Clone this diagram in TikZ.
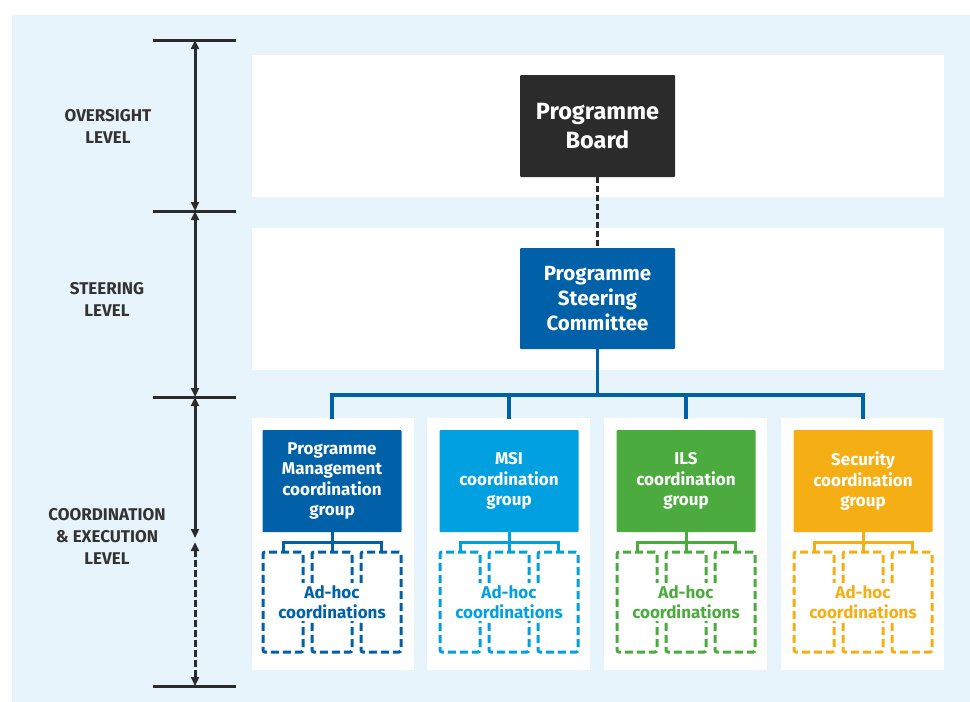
\documentclass[tikz,border=0pt]{standalone}
\usepackage{fontspec}
\setmainfont{Fira Sans}
\usetikzlibrary{arrows.meta}
\definecolor{bgblue}{HTML}{E8F4FC}
\definecolor{dark}{HTML}{2B2B2B}
\definecolor{pmblue}{HTML}{0061A8}
\definecolor{msiblue}{HTML}{00A0E1}
\definecolor{ilsgreen}{HTML}{4BAB3E}
\definecolor{secorange}{HTML}{F5AF15}
\definecolor{labelgray}{HTML}{333333}
\tikzset{
  panel/.style={fill=white,draw=none},
  lvbar/.style={line width=3pt,draw=dark},
  lvarrow/.style={line width=3pt,draw=dark,{Triangle[length=9pt,width=8pt]}-{Triangle[length=9pt,width=8pt]}},
  lvlabel/.style={text=labelgray,align=center,font=\fontsize{17}{22}\selectfont\bfseries},
  topbox/.style={fill=dark,text=white,align=center,minimum width=155pt,minimum height=102pt,rounded corners=1pt,font=\fontsize{23.5}{29}\selectfont\bfseries},
  stbox/.style={fill=pmblue,text=white,align=center,minimum width=155pt,minimum height=101pt,rounded corners=1pt,font=\fontsize{20.5}{25}\selectfont\bfseries},
  grpbox/.style={fill=#1,text=white,align=center,minimum width=139pt,minimum height=102pt,rounded corners=1pt,font=\fontsize{17}{20.5}\selectfont\bfseries},
  subbox/.style={draw=#1,line width=3pt,dash pattern=on 8pt off 4pt,minimum width=40pt,minimum height=100pt,rounded corners=2pt},
  adhoc/.style={fill=white,text=#1,align=center,inner sep=2pt,font=\fontsize{17}{20.5}\selectfont\bfseries},
  conn/.style={line width=3.5pt,draw=pmblue},
  subconn/.style={line width=3pt,draw=#1},
}
\begin{document}
\begin{tikzpicture}[x=1pt,y=-1pt]
\useasboundingbox (0,0) rectangle (970,702);
\fill[white] (0,0) rectangle (970,702);
\fill[bgblue] (12,15) rectangle (970,702);
% panels
\fill[panel] (252,55) rectangle (944,197);
\fill[panel] (252,228) rectangle (944,370);
\foreach \a/\b in {252/414,427/590,604/767,781/944}{
  \fill[panel] (\a,418) rectangle (\b,670);
}
% level scale
\coordinate (m0) at (195,40);
\coordinate (m1) at (195,211);
\coordinate (m2) at (195,397);
\coordinate (mh) at (195,540);
\coordinate (m3) at (195,686);
\foreach \m in {m0,m1,m2,m3}{
  \draw[lvbar] ([xshift=-42pt]\m) -- ([xshift=41pt]\m);
}
\draw[lvarrow] (m0) -- (m1);
\draw[lvarrow] (m1) -- (m2);
\draw[lvarrow] (m2) -- ([yshift=2pt]mh);
\draw[lvarrow,dash pattern=on 7pt off 3pt] ([yshift=-2pt]mh) -- (m3);
\node[lvlabel] (lv1) at (108,126) {OVERSIGHT\\LEVEL};
\node[lvlabel] (lv2) at (107,299) {STEERING\\LEVEL};
\node[lvlabel] (lv3) at (107,536) {COORDINATION\\\&~EXECUTION\\LEVEL};
% top boxes
\node[topbox] (board) at (597.5,126) {Programme\\Board};
\node[stbox] (steer) at (597.5,298.5) {Programme\\Steering\\Committee};
\draw[line width=3.5pt,draw=dark,dash pattern=on 6pt off 3pt] (board.south) -- (steer.north);
% groups
\coordinate (hub) at (597.5,395);
\foreach \n/\x/\c/\t in {g1/332/pmblue/{Programme\\Management\\coordination\\group},
                        g2/509/msiblue/{MSI\\coordination\\group},
                        g3/686/ilsgreen/{ILS\\coordination\\group},
                        g4/863/secorange/{Security\\coordination\\group}}{
  \node[grpbox=\c] (\n) at (\x,481) {\t};
  \coordinate (\n-top) at (\x,419);
  \coordinate (\n-hub) at (\x,395);
  \node[subbox=\c] (\n-a) at (\x-49,602) {};
  \node[subbox=\c] (\n-b) at (\x,602) {};
  \node[subbox=\c] (\n-c) at (\x+49,602) {};
  \coordinate (\n-j) at (\x,542);
  \draw[subconn=\c] (\n.south) -- (\n-j);
  \draw[subconn=\c] (\n-a.north) |- (\n-j) -| (\n-c.north);
  \draw[subconn=\c] (\n-j) -- (\n-b.north);
  \node[adhoc=\c] (\n-t) at (\x,602) {Ad-hoc\\coordinations};
}
\draw[conn] (steer.south) -- (hub);
\draw[conn] (g1-top) -- (g1-hub) -- (g4-hub) -- (g4-top);
\draw[conn] (g2-hub) -- (g2-top);
\draw[conn] (g3-hub) -- (g3-top);
\end{tikzpicture}
\end{document}
